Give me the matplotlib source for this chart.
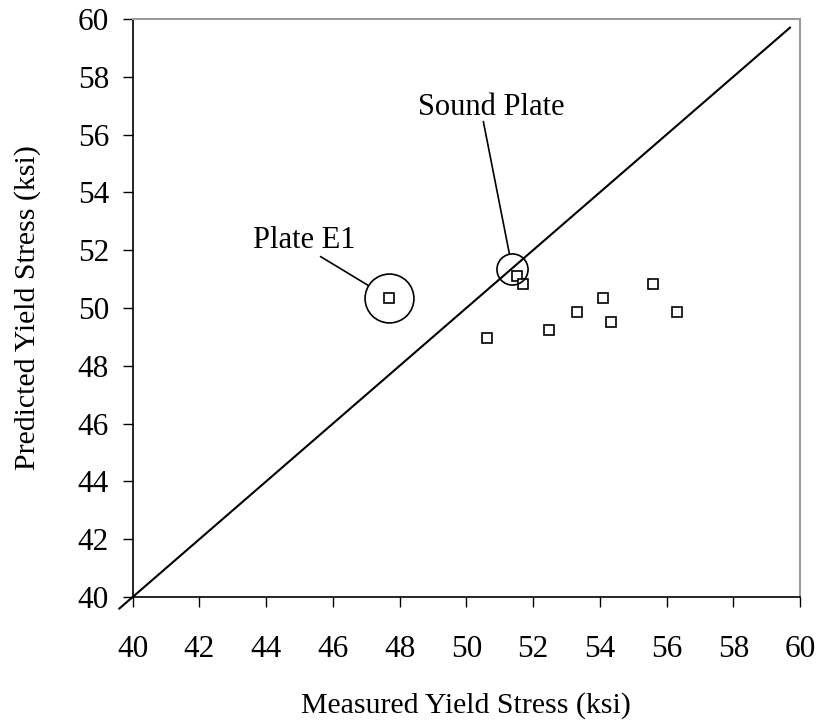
import matplotlib
matplotlib.use('Agg')
import matplotlib.pyplot as plt

plt.rcParams['font.family'] = ['Liberation Serif', 'DejaVu Serif']

# measured vs predicted yield stress (ksi)
measured = [47.69, 51.53, 51.70, 50.63, 52.48, 53.32, 54.10, 54.34, 55.59, 56.32]
predicted = [50.34, 51.11, 50.83, 48.95, 49.24, 49.86, 50.35, 49.52, 50.83, 49.86]

# 1:1 reference line
line_x = [39.6, 59.7]
line_y = [39.6, 59.7]

ticks = list(range(40, 61, 2))

# highlighted plates: label, label position, leader start, circle centre, circle radius (pt)
e1_text = (45.13, 52.33)
e1_start = (45.63, 51.78)
e1_center = (47.69, 50.34)
e1_r = 17.6

sound_text = (50.74, 56.93)
sound_start = (50.51, 56.45)
sound_center = (51.38, 51.35)
sound_r = 11.2

fig = plt.figure(figsize=(8.21, 7.24), dpi=100)
ax = fig.add_axes([0.1616, 0.1754, 0.8128, 0.7984])

ax.plot(line_x, line_y, color='black', lw=1.5, clip_on=False, zorder=2)
ax.plot(measured, predicted, ls='none', marker='s', ms=7.5, mfc='white',
        mec='black', mew=1.2, zorder=3)

# circles around the two plates
ax.plot(*e1_center, marker='o', ms=2 * e1_r, mfc='none', mec='black', mew=1.2, zorder=4)
ax.plot(*sound_center, marker='o', ms=2 * sound_r, mfc='none', mec='black', mew=1.2, zorder=4)

ax.text(*e1_text, 'Plate E1', fontsize=22, ha='center', va='center')
ax.text(*sound_text, 'Sound Plate', fontsize=22, ha='center', va='center')
ax.annotate('', xy=e1_center, xytext=e1_start,
            arrowprops=dict(arrowstyle='-', color='black', lw=1.2, shrinkA=0, shrinkB=e1_r))
ax.annotate('', xy=sound_center, xytext=sound_start,
            arrowprops=dict(arrowstyle='-', color='black', lw=1.2, shrinkA=0, shrinkB=sound_r))

ax.set_xlim(40, 60)
ax.set_ylim(40, 60)
ax.set_xticks(ticks)
ax.set_yticks(ticks)
ax.tick_params(direction='out', length=7, width=1, labelsize=22.5, colors='black')
ax.tick_params(axis='x', pad=20)
ax.tick_params(axis='y', pad=10)

for side in ['left', 'bottom']:
    ax.spines[side].set_color('black')
    ax.spines[side].set_linewidth(1.2)
for side in ['top', 'right']:
    ax.spines[side].set_color('#999999')
    ax.spines[side].set_linewidth(1.5)

ax.set_xlabel('Measured Yield Stress (ksi)', fontsize=21.5)
ax.set_ylabel('Predicted Yield Stress (ksi)', fontsize=21.5)
ax.xaxis.label.set_va('center')
ax.yaxis.label.set_va('center')
ax.xaxis.set_label_coords(0.5, -0.187)
ax.yaxis.set_label_coords(-0.158, 0.5)

fig.savefig('out.png', dpi=100)
